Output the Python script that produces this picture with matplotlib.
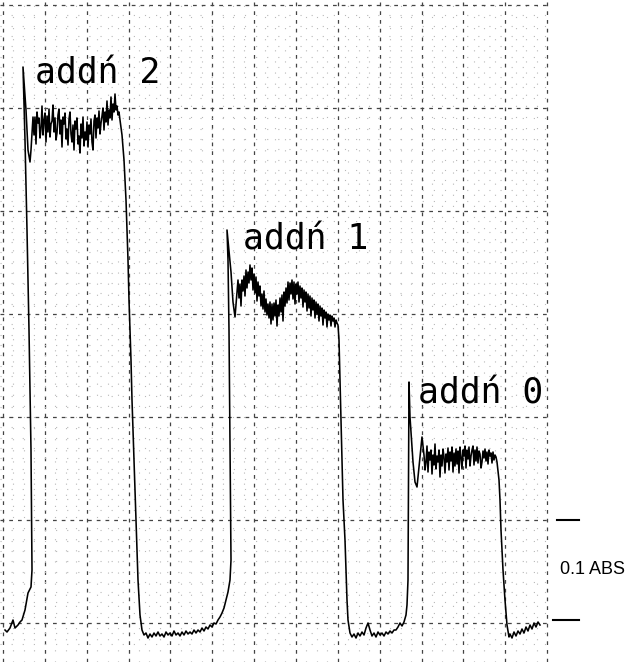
import matplotlib
matplotlib.use("Agg")
import matplotlib.pyplot as plt
import numpy as np

# ---- Data: recorder trace (time = chart position, signal in milli-absorbance) ----
t_rise1 = [5, 7, 10, 13, 15, 18, 20, 22, 25, 28, 31, 32, 31, 29, 27, 25, 23, 26, 28, 30, 31, 33]
a_rise1 = [2, 0, 4, 12, 4, 7, 10, 12, 22, 39, 45, 62, 182, 302, 402, 492, 565, 522, 482, 470, 482, 515]

t_plat1 = list(range(34, 121))
a_plat1 = [497, 515, 488, 520, 509, 514, 494, 503, 526, 497,
           512, 519, 490, 516, 500, 523, 495, 508, 511, 527,
           500, 514, 492, 499, 517, 523, 498, 512, 485, 515,
           508, 519, 493, 503, 487, 513, 520, 498, 490, 507,
           482, 511, 503, 514, 488, 496, 479, 508, 494, 515,
           486, 500, 492, 510, 485, 507, 498, 513, 490, 482,
           511, 517, 494, 514, 504, 521, 498, 509, 516, 524,
           502, 520, 510, 531, 507, 522, 514, 535, 512, 528,
           520, 538, 522, 526, 517, 520, 512]

t_fall1 = [122, 124, 126, 128, 129, 131, 132, 134, 136, 138, 140, 142, 144]
a_fall1 = [497, 472, 432, 372, 332, 272, 232, 172, 112, 52, 17, 2, -3]

t_base2 = list(range(146, 230, 2)) + [230, 231]
a_base2 = [-1, -6, -2, -5, -1, -4, 0, -4, -2, -5, 0, -3, -1, -4, 1, -3, -1, -4, 0, -3, 1, -2, 0, -2,
           2, -1, 2, 0, 4, 1, 5, 3, 7, 5, 9, 8, 12, 15, 19, 24, 32, 40, 52, 72]

t_rise2 = [230, 229, 228, 227, 231, 233, 235, 237, 238]
a_rise2 = [192, 302, 372, 402, 360, 330, 315, 340, 352]

t_plat2 = list(range(239, 339))
a_plat2 = [334, 348, 326, 352, 341, 356, 336, 362, 344, 360,
           349, 367, 352, 364, 342, 358, 339, 355, 331, 350,
           336, 346, 326, 338, 323, 341, 320, 333, 317, 328,
           314, 330, 308, 328, 312, 329, 316, 332, 306, 327,
           316, 334, 320, 337, 311, 340, 326, 344, 329, 350,
           332, 349, 338, 352, 333, 350, 328, 348, 338, 350,
           330, 346, 334, 344, 325, 342, 330, 340, 321, 338,
           324, 336, 316, 334, 322, 332, 314, 330, 318, 328,
           311, 326, 316, 324, 307, 322, 314, 320, 305, 318,
           312, 317, 306, 316, 311, 314, 305, 312, 309, 307]

t_fall2 = [339, 340, 341, 342, 343, 345, 346, 347, 348, 350]
a_fall2 = [292, 252, 212, 172, 132, 92, 62, 32, 12, -1]

t_base3 = list(range(352, 408, 2)) + [407, 408]
a_base3 = [-5, -2, -6, -1, -4, 0, -3, 4, 9, 2, -4, -1, -5, 0, -3, -1, -4, 0, -2, 1, -1, 2, 2, 5,
           9, 6, 10, 17, 27, 52]

t_rise3 = [409, 410, 413, 415, 417, 419, 421, 422, 424, 425]
a_rise3 = [250, 215, 170, 150, 145, 165, 185, 195, 177, 162]

t_plat3 = list(range(426, 498))
a_plat3 = [170, 186, 160, 180, 172, 182, 158, 177, 167, 188,
           163, 176, 170, 182, 155, 177, 166, 183, 175, 159,
           178, 170, 184, 162, 180, 171, 185, 160, 179, 166,
           183, 168, 181, 159, 185, 175, 163, 182, 176, 186,
           164, 182, 173, 185, 166, 176, 182, 186, 167, 182,
           171, 185, 169, 181, 178, 164, 170, 181, 174, 183,
           171, 180, 168, 182, 176, 179, 169, 180, 172, 177,
           175, 170]

t_fall3 = [499, 500, 501, 503, 505, 507, 509]
a_fall3 = [152, 132, 102, 62, 32, 7, -5]

t_base4 = list(range(510, 541, 2))
a_base4 = [-2, -6, 0, -4, 1, -2, 3, -1, 5, 1, 7, 3, 9, 5, 10, 7]

labels = ["addń 2", "addń 1", "addń 0"]
label_t = [35, 243, 418]
label_a = [549, 382, 229]

scale_text = "0.1 ABS"
scale_low, scale_high = 12, 112   # milli-absorbance, 0.1 ABS apart

# ---- assemble trace ----
t = np.concatenate([t_rise1, t_plat1, t_fall1, t_base2, t_rise2, t_plat2, t_fall2,
                    t_base3, t_rise3, t_plat3, t_fall3, t_base4]).astype(float)
a = np.concatenate([a_rise1, a_plat1, a_fall1, a_base2, a_rise2, a_plat2, a_fall2,
                    a_base3, a_rise3, a_plat3, a_fall3, a_base4]).astype(float)

W, H = 630, 662
fig = plt.figure(figsize=(W / 100, H / 100), dpi=100)
fig.patch.set_facecolor("white")
ax = fig.add_axes([0, 0, 550 / W, 1])
for s in ax.spines.values():
    s.set_visible(False)

# chart-paper grid
major_y = np.arange(9, 632, 103.0)
minor_y = np.arange(9 - 2 * 103.0 / 10, 632, 103.0 / 10)
minor_y = minor_y[minor_y > -30]
major_x = np.arange(3, 551, 41.85)
minor_x = np.arange(3, 551, 41.85 / 4)
ax.set_yticks(major_y)
ax.set_yticks(minor_y, minor=True)
ax.set_xticks(major_x)
ax.set_xticks(minor_x, minor=True)
ax.set_xlim(0, 550)
ax.set_ylim(-30, 632)
ax.tick_params(which="both", length=0, labelleft=False, labelbottom=False)
ax.grid(which="major", axis="both", color="#444444", linestyle=(0, (3, 4)), linewidth=0.9)
ax.grid(which="minor", axis="both", color="#b8b8b8", linestyle=(0, (1, 9)), linewidth=0.8)
ax.set_axisbelow(True)

# trace
ax.plot(t, a, color="black", linewidth=1.15, solid_joinstyle="round")

# labels
for txt, x, y in zip(labels, label_t, label_a):
    ax.text(x, y, txt, fontsize=25, family="DejaVu Sans Mono", ha="left", va="baseline",
            color="black")

# scale bar
ax.plot([557, 579], [scale_high, scale_high], color="black", lw=1.5, clip_on=False)
ax.plot([553, 579], [scale_low, scale_low], color="black", lw=1.5, clip_on=False)
ax.text(560, (scale_high + scale_low) / 2, scale_text, fontsize=13, family="Liberation Sans",
        ha="left", va="center", clip_on=False)

fig.savefig("out.png", dpi=100, facecolor="white")
